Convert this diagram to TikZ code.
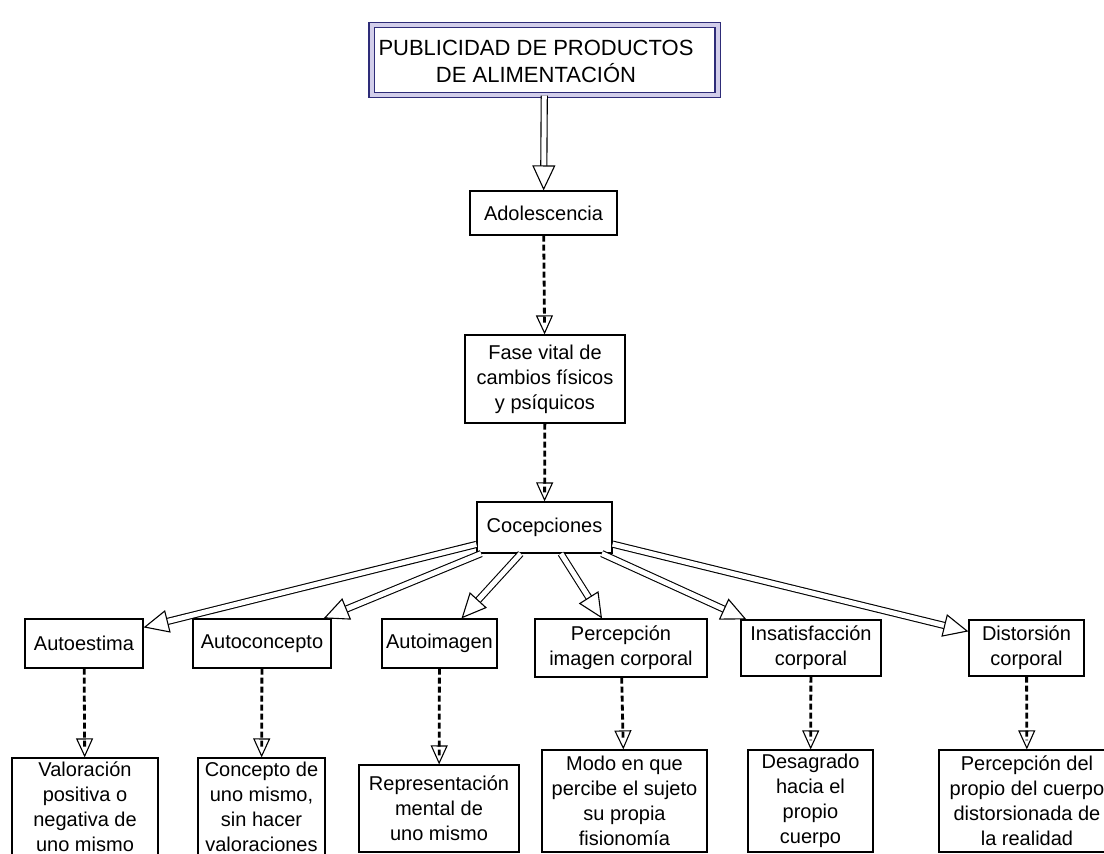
\documentclass[tikz,border=0pt]{standalone}
\usepackage{fontspec}
\setmainfont{Liberation Sans}
\usetikzlibrary{arrows.meta}
\definecolor{navy}{HTML}{2E2C78}
\definecolor{lav}{HTML}{D2CEEA}
\tikzset{
  box/.style={draw=black, line width=1.2pt, inner sep=0pt, align=center,
    font=\fontsize{20}{25}\selectfont, fill=white},
  titlebox/.style={draw=navy, line width=1.1pt, double=lav, double distance=4pt,
    inner sep=0pt},
  titletext/.style={inner sep=0pt, align=center, font=\fontsize{22}{27}\selectfont},
  dblshaft/.style={draw=black, line width=1.1pt, double=white, double distance=5pt, shorten >=23pt},
  dbltip/.style={draw=white, line width=1.1pt, shorten <=3pt,
    -{Triangle[width=23pt, length=25pt, color=black, fill=white]}},
  dshtip/.style={draw=white, line width=1.1pt, shorten <=3pt,
    -{Triangle[open, width=17pt, length=19pt, color=black]}},
  dshshaft/.style={draw=black, line width=2.8pt, dash pattern=on 6pt off 3pt, shorten >=9pt},
}
\begin{document}
\begin{tikzpicture}[x=1pt, y=-1pt]
\useasboundingbox (0,0) rectangle (1104,854);
\fill[white] (0,0) rectangle (1104,854);

% title
\node[titlebox, minimum width=346pt, minimum height=70pt] (title) at (544.5,60) {};
\node[titletext] (titletxt) at (536,61) {PUBLICIDAD DE PRODUCTOS\\DE ALIMENTACIÓN};

% chain
\node[box, minimum width=147pt, minimum height=44pt] (ado) at (543.5,213) {Adolescencia};
\node[box, minimum width=160pt, minimum height=88pt] (fase) at (545,379) {Fase vital de\\cambios físicos\\y psíquicos};
\node[box, minimum width=135pt, minimum height=51pt] (coc) at (544.5,527.5) {Cocepciones};

% second row
\node[box, minimum width=118pt, minimum height=49pt] (ae) at (84,643.5) {Autoestima};
\node[box, minimum width=138pt, minimum height=49pt] (ac) at (262,643.5) {Autoconcepto};
\node[box, minimum width=115pt, minimum height=49pt] (ai) at (439.5,643.5) {Autoimagen};
\node[box, minimum width=172pt, minimum height=58pt] (pc) at (621,648) {Percepción\\imagen corporal};
\node[box, minimum width=140pt, minimum height=56pt] (ic) at (811,648) {Insatisfacción\\corporal};
\node[box, minimum width=115pt, minimum height=56pt] (dc) at (1026.5,648) {Distorsión\\corporal};

% third row
\node[box, minimum width=146pt, minimum height=98pt] (val) at (85,807) {Valoración\\positiva o\\negativa de\\uno mismo};
\node[box, minimum width=127pt, minimum height=98pt] (con) at (261.5,807) {Concepto de\\uno mismo,\\sin hacer\\valoraciones};
\node[box, minimum width=160pt, minimum height=87pt] (rep) at (439,808.5) {Representación\\mental de\\uno mismo};
\node[box, minimum width=165pt, minimum height=102pt] (modo) at (624.5,801) {Modo en que\\percibe el sujeto\\su propia\\fisionomía};
\node[box, minimum width=125pt, minimum height=102pt] (des) at (810.5,801) {Desagrado\\hacia el\\propio\\cuerpo};
\node[box, minimum width=176pt, minimum height=102pt] (pdc) at (1027,801) {Percepción del\\propio del cuerpo\\distorsionada de\\la realidad};

% target coordinates for the fan
\coordinate (aeT) at ([yshift=-9pt]ae.north east);
\coordinate (acT) at ([xshift=-8pt]ac.north east);
\coordinate (aiT) at ([xshift=22pt]ai.north);
\coordinate (pcT) at ([xshift=-19pt]pc.north);
\coordinate (icT) at ([xshift=6pt]ic.north west);
\coordinate (dcT) at ([yshift=-12pt]dc.north west);

% double arrows
\draw[dblshaft] (title) -- (ado);
\draw[dbltip] (title) -- (ado);
\foreach \t in {aeT,acT,aiT,pcT,icT,dcT}{
  \draw[dblshaft] (coc) -- (\t);
  \draw[dbltip] (coc) -- (\t);
}

% dashed arrows
\foreach \a/\b in {ado/fase, fase/coc, ae/val, ac/con, ai/rep, pc/modo, ic/des, dc/pdc}{
  \draw[dshtip] (\a) -- (\b);
  \draw[dshshaft] (\a) -- (\b);
}
\end{tikzpicture}
\end{document}
